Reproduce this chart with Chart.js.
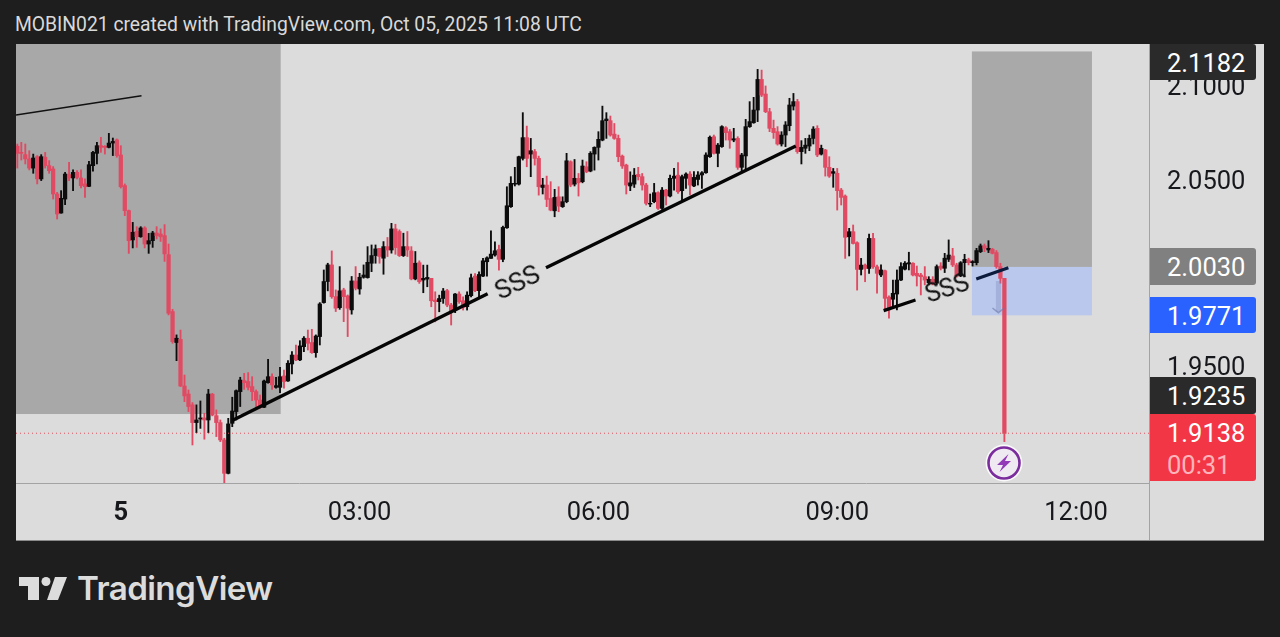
<!DOCTYPE html>
<html>
<head>
<meta charset="utf-8">
<title>MOBIN021 chart</title>
<script src="https://cdn.jsdelivr.net/npm/chart.js@4/dist/chart.umd.min.js"></script>
<style>
    html, body { margin: 0; padding: 0; background: #1e1e1e; }
    #page { position: relative; width: 1280px; height: 637px; overflow: hidden; background: #1e1e1e; font-family: Roboto, sans-serif; }
    #header { position: absolute; left: 15px; top: 13px; font-size: 19.3px; line-height: 24px; color: #d9d9d9; white-space: nowrap; }
    #panel { position: absolute; left: 16px; top: 44px; width: 1248px; height: 497px; background: #dcdcdc; }
    #priceChart { position: absolute; left: 16px; top: 44px; }
    #axisEdge { position: absolute; left: 1149px; top: 483px; width: 1px; height: 58px; background: #a3a3a3; }
    #panelEdge { position: absolute; left: 16px; top: 540px; width: 1248px; height: 1px; background: #8a8a8a; }
    .tag { position: absolute; left: 1150px; width: 106px; box-sizing: border-box; padding-left: 17px; padding-top: 1px; border-radius: 0 3px 3px 0; color: #fff; font-size: 25.5px; line-height: 36px; }
    .tag span { display: block; }
    .tag .timer { color: #ffb3ba; line-height: 28px; }
    .sss { position: absolute; color: #111; white-space: nowrap; line-height: 1; transform: translate(-50%, -50%) rotate(var(--turn)); }
    #bolt { position: absolute; left: 985px; top: 444px; }
    #logo { position: absolute; left: 18px; top: 575px; }
    #wordmark { position: absolute; left: 77px; top: 567px; font-family: Inter, sans-serif; font-weight: 600; font-size: 33.2px; line-height: 42px; color: #dcdcdc; letter-spacing: -0.6px; }
</style>
</head>
<body>
<div id="page">
    <div id="header"></div>
    <div id="panel"></div>
    <canvas id="priceChart" width="1248" height="497"></canvas>
    <div id="axisEdge"></div>
    <div id="panelEdge"></div>
    <div id="tags"></div>
    <div class="sss" style="left:517px;top:282px;font-size:26px;--turn:-26deg">SSS</div>
    <div class="sss" style="left:947px;top:288px;font-size:25px;--turn:-18deg">SSS</div>
    <svg id="bolt" width="38" height="38" viewBox="0 0 38 38">
        <circle cx="19" cy="19" r="18.5" fill="#fff" opacity="0.85"/>
        <circle cx="19" cy="19" r="15.5" fill="#efe9f2" stroke="#7b2d9e" stroke-width="2.6"/>
        <path d="M23.5 10 L12 21 H18 L14.5 28 L26 17 H20 Z" fill="#9239b8"/>
    </svg>
    <svg id="logo" width="52" height="28" viewBox="0 0 52 28">
        <path d="M1 2 H21 V25 H10 V11 H1 Z" fill="#dcdcdc"/>
        <circle cx="28" cy="6.5" r="4.5" fill="#dcdcdc"/>
        <path d="M37 2 H49 L40 25 H29 Z" fill="#dcdcdc"/>
    </svg>
    <div id="wordmark">TradingView</div>
</div>

<script>
const headerText = "MOBIN021 created with TradingView.com, Oct 05, 2025 11:08 UTC";

// 3 minute candles, first one is 22:42 of the day before (-78 min from 00:00)
const firstMinute = -78;
const candleMinutes = 3;

const opens = [
    2.0682,2.0649,2.0637,2.0614,2.0565,2.0626,2.0507,2.0623,2.0578,2.0560,
    2.0426,2.0324,2.0399,2.0530,2.0512,2.0542,2.0512,2.0480,2.0467,2.0578,
    2.0644,2.0685,2.0682,2.0676,2.0699,2.0716,2.0635,2.0471,2.0337,2.0180,
    2.0226,2.0197,2.0244,2.0158,2.0176,2.0217,2.0212,2.0203,2.0101,1.9796,
    1.9630,1.9647,1.9397,1.9354,1.9296,1.9201,1.9220,1.9226,1.9215,1.9353,
    1.9238,1.9201,1.9108,1.8929,1.9197,1.9260,1.9367,1.9426,1.9421,1.9394,
    1.9367,1.9322,1.9283,1.9415,1.9447,1.9390,1.9390,1.9451,1.9424,1.9515,
    1.9563,1.9537,1.9608,1.9653,1.9630,1.9576,1.9662,1.9844,1.9957,2.0046,
    1.9876,1.9817,1.9912,1.9880,1.9805,1.9960,1.9917,1.9980,1.9978,2.0055,
    2.0096,2.0135,2.0082,2.0144,2.0126,2.0239,2.0225,2.0096,2.0144,2.0121,
    1.9971,2.0058,1.9965,1.9970,1.9974,1.9858,1.9849,1.9866,1.9908,1.9831,
    1.9804,1.9890,1.9854,1.9822,1.9881,1.9986,1.9908,1.9986,2.0063,2.0081,
    2.0099,2.0129,2.0076,2.0245,2.0358,2.0479,2.0479,2.0617,2.0728,2.0640,
    2.0653,2.0617,2.0461,2.0474,2.0402,2.0336,2.0411,2.0358,2.0385,2.0599,
    2.0479,2.0510,2.0492,2.0572,2.0549,2.0640,2.0676,2.0715,2.0819,2.0819,
    2.0747,2.0724,2.0629,2.0581,2.0469,2.0479,2.0531,2.0519,2.0474,2.0372,
    2.0385,2.0433,2.0349,2.0447,2.0415,2.0510,2.0527,2.0444,2.0510,2.0533,
    2.0469,2.0504,2.0528,2.0540,2.0626,2.0733,2.0644,2.0680,2.0781,2.0760,
    2.0715,2.0724,2.0569,2.0630,2.0787,2.0808,2.0876,2.1040,2.0962,2.0867,
    2.0778,2.0760,2.0694,2.0742,2.0792,2.0897,2.0921,2.0653,2.0671,2.0683,
    2.0724,2.0778,2.0640,2.0662,2.0569,2.0537,2.0537,2.0447,2.0415,2.0197,
    2.0224,2.0165,2.0022,2.0045,2.0027,2.0188,2.0036,1.9992,2.0015,1.9873,
    1.9862,1.9890,1.9965,2.0023,2.0051,2.0055,2.0001,1.9992,1.9983,1.9951,
    1.9969,1.9948,2.0040,2.0028,2.0076,2.0094,2.0046,1.9987,2.0058,2.0073,
    2.0058,2.0058,2.0117,2.0148,2.0126,2.0130,2.0112,2.0037,1.9974
];

const highs = [
    2.0694,2.0703,2.0694,2.0658,2.0640,2.0632,2.0637,2.0649,2.0605,2.0573,
    2.0435,2.0444,2.0542,2.0596,2.0555,2.0551,2.0555,2.0507,2.0601,2.0655,
    2.0703,2.0730,2.0685,2.0751,2.0726,2.0721,2.0685,2.0480,2.0340,2.0274,
    2.0251,2.0251,2.0251,2.0215,2.0226,2.0251,2.0239,2.0262,2.0158,1.9808,
    1.9671,1.9697,1.9456,1.9376,1.9308,1.9296,1.9317,1.9251,1.9379,1.9358,
    1.9269,1.9215,1.9117,1.9224,1.9337,1.9376,1.9444,1.9465,1.9469,1.9447,
    1.9376,1.9349,1.9429,1.9540,1.9462,1.9444,1.9497,1.9483,1.9533,1.9581,
    1.9617,1.9640,1.9662,1.9697,1.9701,1.9671,1.9844,2.0019,2.0055,2.0121,
    1.9912,2.0037,1.9921,1.9885,1.9984,2.0037,2.0001,2.0046,2.0144,2.0153,
    2.0153,2.0135,2.0171,2.0193,2.0269,2.0264,2.0234,2.0216,2.0225,2.0144,
    2.0118,2.0068,2.0045,2.0045,1.9974,1.9902,1.9884,1.9920,1.9915,1.9840,
    1.9893,1.9902,1.9875,1.9902,1.9997,2.0000,2.0009,2.0081,2.0090,2.0229,
    2.0170,2.0152,2.0254,2.0465,2.0519,2.0569,2.0629,2.0862,2.0790,2.0724,
    2.0665,2.0629,2.0510,2.0522,2.0492,2.0451,2.0465,2.0411,2.0644,2.0604,
    2.0611,2.0536,2.0608,2.0599,2.0653,2.0679,2.0760,2.0897,2.0862,2.0844,
    2.0804,2.0742,2.0635,2.0586,2.0545,2.0563,2.0569,2.0536,2.0483,2.0426,
    2.0483,2.0438,2.0461,2.0451,2.0527,2.0563,2.0594,2.0528,2.0540,2.0546,
    2.0546,2.0546,2.0546,2.0647,2.0737,2.0742,2.0697,2.0792,2.0787,2.0772,
    2.0778,2.0733,2.0644,2.0826,2.0921,2.0944,2.1094,2.1090,2.1005,2.0885,
    2.0822,2.0787,2.0760,2.0814,2.0939,2.0965,2.0933,2.0712,2.0724,2.0742,
    2.0787,2.0792,2.0688,2.0665,2.0626,2.0563,2.0563,2.0456,2.0421,2.0242,
    2.0260,2.0170,2.0081,2.0051,2.0211,2.0215,2.0045,2.0046,2.0019,1.9880,
    1.9965,2.0019,2.0058,2.0064,2.0114,2.0058,2.0040,2.0001,2.0037,1.9983,
    1.9983,2.0046,2.0058,2.0108,2.0180,2.0135,2.0055,2.0064,2.0103,2.0082,
    2.0069,2.0135,2.0158,2.0158,2.0176,2.0135,2.0123,2.0055,1.9974
];

const lows = [
    2.0565,2.0608,2.0587,2.0555,2.0537,2.0480,2.0498,2.0565,2.0537,2.0399,
    2.0292,2.0323,2.0369,2.0498,2.0444,2.0507,2.0458,2.0408,2.0465,2.0548,
    2.0587,2.0649,2.0640,2.0673,2.0632,2.0623,2.0458,2.0310,2.0108,2.0137,
    2.0140,2.0194,2.0137,2.0108,2.0140,2.0185,2.0172,2.0065,1.9778,1.9626,
    1.9533,1.9394,1.9313,1.9260,1.9081,1.9147,1.9170,1.9112,1.9147,1.9237,
    1.9126,1.9099,1.8876,1.8926,1.9179,1.9215,1.9287,1.9379,1.9376,1.9319,
    1.9278,1.9278,1.9281,1.9412,1.9379,1.9385,1.9362,1.9385,1.9421,1.9462,
    1.9533,1.9533,1.9581,1.9590,1.9572,1.9551,1.9617,1.9841,1.9907,1.9867,
    1.9796,1.9808,1.9742,1.9662,1.9782,1.9912,1.9889,1.9975,1.9975,2.0010,
    2.0055,2.0055,1.9996,2.0091,2.0109,2.0103,2.0091,2.0091,2.0091,1.9966,
    1.9966,1.9947,1.9897,1.9929,1.9822,1.9741,1.9795,1.9840,1.9822,1.9724,
    1.9790,1.9840,1.9804,1.9804,1.9875,1.9902,1.9866,1.9983,1.9986,2.0081,
    2.0093,2.0018,2.0063,2.0242,2.0354,2.0469,2.0474,2.0608,2.0572,2.0519,
    2.0581,2.0420,2.0426,2.0358,2.0336,2.0304,2.0331,2.0354,2.0379,2.0465,
    2.0469,2.0415,2.0486,2.0540,2.0545,2.0554,2.0608,2.0711,2.0724,2.0736,
    2.0719,2.0599,2.0563,2.0426,2.0444,2.0461,2.0501,2.0447,2.0367,2.0358,
    2.0379,2.0343,2.0343,2.0367,2.0411,2.0447,2.0429,2.0390,2.0456,2.0421,
    2.0465,2.0474,2.0456,2.0537,2.0622,2.0640,2.0572,2.0676,2.0715,2.0671,
    2.0706,2.0558,2.0546,2.0554,2.0783,2.0805,2.0814,2.0948,2.0862,2.0760,
    2.0724,2.0688,2.0683,2.0680,2.0765,2.0876,2.0644,2.0587,2.0644,2.0658,
    2.0694,2.0626,2.0635,2.0522,2.0515,2.0462,2.0340,2.0367,2.0081,2.0094,
    2.0158,1.9911,1.9992,1.9956,2.0001,2.0027,1.9894,1.9983,1.9805,1.9760,
    1.9814,1.9805,1.9962,2.0019,2.0019,1.9987,1.9933,1.9885,1.9939,1.9939,
    1.9939,1.9939,2.0019,2.0005,2.0064,2.0037,1.9980,1.9983,1.9983,2.0046,
    2.0040,2.0046,2.0112,2.0117,2.0112,2.0105,2.0028,1.9948,1.9099
];

const closes = [
    2.0644,2.0644,2.0614,2.0565,2.0619,2.0507,2.0626,2.0578,2.0551,2.0426,
    2.0319,2.0403,2.0533,2.0512,2.0542,2.0515,2.0471,2.0465,2.0583,2.0649,
    2.0685,2.0676,2.0676,2.0699,2.0708,2.0632,2.0465,2.0337,2.0176,2.0221,
    2.0197,2.0244,2.0158,2.0176,2.0217,2.0203,2.0197,2.0105,1.9787,1.9635,
    1.9653,1.9397,1.9344,1.9287,1.9201,1.9215,1.9226,1.9215,1.9354,1.9242,
    1.9201,1.9108,1.8929,1.9194,1.9263,1.9372,1.9429,1.9415,1.9390,1.9367,
    1.9322,1.9283,1.9424,1.9447,1.9403,1.9399,1.9447,1.9421,1.9519,1.9563,
    1.9537,1.9612,1.9653,1.9626,1.9576,1.9665,1.9837,1.9957,2.0046,1.9876,
    1.9814,1.9907,1.9876,1.9814,1.9960,1.9921,1.9980,1.9992,2.0060,2.0096,
    2.0132,2.0091,2.0144,2.0126,2.0239,2.0139,2.0096,2.0144,2.0126,1.9971,
    2.0055,1.9956,1.9974,1.9979,1.9854,1.9849,1.9866,1.9906,1.9831,1.9795,
    1.9890,1.9849,1.9818,1.9884,1.9977,1.9908,1.9995,2.0068,2.0084,2.0104,
    2.0122,2.0076,2.0247,2.0363,2.0483,2.0483,2.0626,2.0728,2.0617,2.0658,
    2.0617,2.0465,2.0474,2.0397,2.0340,2.0408,2.0361,2.0385,2.0604,2.0474,
    2.0510,2.0486,2.0576,2.0545,2.0644,2.0676,2.0719,2.0819,2.0828,2.0742,
    2.0724,2.0626,2.0576,2.0474,2.0486,2.0527,2.0519,2.0474,2.0376,2.0376,
    2.0433,2.0349,2.0447,2.0415,2.0510,2.0522,2.0438,2.0519,2.0533,2.0474,
    2.0515,2.0528,2.0540,2.0635,2.0730,2.0644,2.0688,2.0787,2.0755,2.0715,
    2.0722,2.0569,2.0635,2.0787,2.0814,2.0876,2.1040,2.0956,2.0867,2.0778,
    2.0755,2.0694,2.0742,2.0796,2.0903,2.0921,2.0653,2.0676,2.0688,2.0724,
    2.0774,2.0635,2.0671,2.0569,2.0522,2.0546,2.0444,2.0408,2.0194,2.0224,
    2.0161,2.0022,2.0045,2.0027,2.0188,2.0036,2.0001,2.0019,1.9867,1.9805,
    1.9894,1.9965,2.0037,2.0055,2.0058,1.9992,1.9987,1.9983,1.9965,1.9969,
    1.9944,2.0037,2.0028,2.0082,2.0099,2.0046,1.9987,2.0058,2.0076,2.0058,
    2.0064,2.0123,2.0148,2.0135,2.0135,2.0108,2.0037,1.9974,1.9143
];

// axis ticks
const timeTicks = [0, 180, 360, 540, 720];
const timeTickLabels = ["5", "03:00", "06:00", "09:00", "12:00"];
const priceTicks = [2.1, 2.05, 1.95];

// price tags on the right axis
const tagLabels = ["2.1182", "2.0030", "1.9771", "1.9235", "1.9138"];
const countdownLabel = "00:31";
const lastPriceLine = 1.9144;

// drawings: [minute, price]
const trendTopLeft = [[-79, 2.0849], [15.6, 2.0953]];
const trendMainLow = [[84, 1.9212], [276.5, 1.9891]];
const trendMainHigh = [[320.5, 2.0031], [508.8, 2.0683]];
const trendSmallLeft = [[575, 1.9801], [599, 1.9858]];
const trendSmallRight = [[644.8, 1.9971], [669, 2.0031]];
const arrowStem = [[661.5, 1.9960], [661.5, 1.9795]];
const arrowHead = [[657, 1.9815], [661.5, 1.9790], [666, 1.9815]];

// zones: [from minute, to minute, low price, high price]
const zoneLeft = [-79, 120.5, 1.9247, 2.1230];
const zoneTarget = [641.5, 732, 2.0035, 2.1190];
const zoneStop = [641.5, 732, 1.9776, 2.0035];

const RED = "#e04a62";
const BLACK = "#0c0c0c";
const minutes = opens.map((_, i) => firstMinute + i * candleMinutes);
const candleColors = opens.map((o, i) => (closes[i] >= o ? BLACK : RED));

document.getElementById("header").textContent = headerText;

function buildTags() {
    const tops = [44, 248, 297, 377, 414];
    const heights = [36, 37, 36, 37, 67];
    const fills = ["#2a2a2a", "#808080", "#2962ff", "#2a2a2a", "#f23645"];
    const holder = document.getElementById("tags");
    tagLabels.forEach((label, i) => {
        const tag = document.createElement("div");
        tag.className = "tag";
        tag.style.top = tops[i] + "px";
        tag.style.height = heights[i] + "px";
        tag.style.background = fills[i];
        tag.innerHTML = "<span>" + label + "</span>";
        if (label === tagLabels[4]) {
            tag.innerHTML += '<span class="timer">' + countdownLabel + "</span>";
        }
        holder.appendChild(tag);
    });
}

function lineSet(points, color, width, dash) {
    return {
        type: "line",
        data: points.map(p => ({ x: p[0], y: p[1] })),
        borderColor: color,
        borderWidth: width,
        borderDash: dash || [],
        pointRadius: 0,
        tension: 0,
        order: 1
    };
}

const zonePlugin = {
    id: "zones",
    beforeDatasetsDraw(c) {
        const x = c.scales.x;
        const y = c.scales.y;
        const ctx = c.ctx;
        const fill = (zone, color) => {
            const left = x.getPixelForValue(zone[0]);
            const right = x.getPixelForValue(zone[1]);
            const top = y.getPixelForValue(zone[3]);
            const bottom = y.getPixelForValue(zone[2]);
            ctx.fillStyle = color;
            ctx.fillRect(left, top, right - left, bottom - top);
        };
        ctx.save();
        fill(zoneLeft, "#a8a8a8");
        fill(zoneTarget, "#a9a9a9");
        fill(zoneStop, "#b9c8ec");
        ctx.restore();
    }
};

buildTags();

new Chart(document.getElementById("priceChart").getContext("2d"), {
    type: "bar",
    data: {
        datasets: [
            {
                data: minutes.map((m, i) => ({ x: m, y: [lows[i], highs[i]] })),
                backgroundColor: candleColors,
                barThickness: 1.2,
                grouped: false,
                order: 5
            },
            {
                data: minutes.map((m, i) => ({ x: m, y: [opens[i], closes[i]] })),
                backgroundColor: candleColors,
                barThickness: 3.6,
                grouped: false,
                order: 4
            },
            lineSet([[-79, lastPriceLine], [775, lastPriceLine]], "#e2505f", 1, [1, 3]),
            lineSet(trendTopLeft, "#111111", 1.5),
            lineSet(trendMainLow, "#050505", 3.4),
            lineSet(trendMainHigh, "#050505", 3.4),
            lineSet(trendSmallLeft, "#050505", 3.2),
            lineSet(trendSmallRight, "#0c1a3c", 3.2),
            lineSet(arrowStem, "rgba(125,135,190,0.35)", 5),
            lineSet(arrowHead, "rgba(110,120,170,0.6)", 1.5)
        ]
    },
    options: {
        responsive: false,
        animation: false,
        devicePixelRatio: window.devicePixelRatio,
        layout: { padding: 0 },
        plugins: { legend: { display: false }, tooltip: { enabled: false } },
        scales: {
            x: {
                type: "linear",
                min: -79,
                max: 775,
                offset: false,
                grid: { display: false, drawTicks: false },
                border: { color: "#a3a3a3" },
                afterBuildTicks: axis => { axis.ticks = timeTicks.map(v => ({ value: v })); },
                afterFit: axis => { axis.height = 58; axis.paddingLeft = 0; axis.paddingRight = 0; },
                ticks: {
                    autoSkip: false,
                    maxRotation: 0,
                    padding: 15,
                    color: "#17181c",
                    font: ctx => ({ family: "Roboto", size: 25.5, weight: ctx.index === 0 ? "bold" : "normal" }),
                    callback: v => timeTickLabels[timeTicks.indexOf(v)]
                }
            },
            y: {
                position: "right",
                min: 1.88773,
                max: 2.12299,
                grid: { display: false, drawTicks: false },
                border: { color: "#a3a3a3" },
                afterBuildTicks: axis => { axis.ticks = priceTicks.map(v => ({ value: v })); },
                afterFit: axis => { axis.width = 115; axis.paddingTop = 0; axis.paddingBottom = 0; },
                ticks: {
                    padding: 18,
                    labelOffset: 2,
                    color: "#17181c",
                    font: { family: "Roboto", size: 25.5 },
                    callback: v => v.toFixed(4)
                }
            }
        }
    },
    plugins: [zonePlugin]
});
</script>
</body>
</html>
